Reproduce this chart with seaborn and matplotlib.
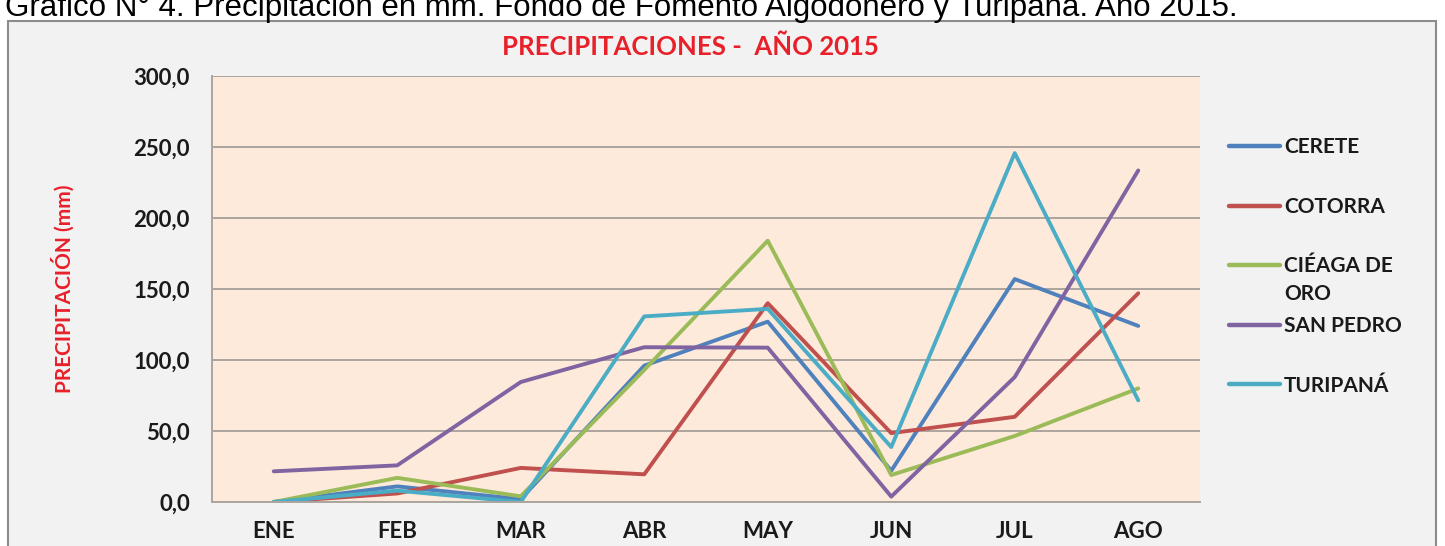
import matplotlib
matplotlib.use("Agg")
import matplotlib.pyplot as plt
import seaborn as sns
import pandas as pd
from matplotlib.patches import Rectangle
from matplotlib.lines import Line2D

months = ["ENE", "FEB", "MAR", "ABR", "MAY", "JUN", "JUL", "AGO"]
stations = ["CERETE", "COTORRA", "CIÉAGA DE\nORO", "SAN PEDRO", "TURIPANÁ"]
cerete = [0.0, 11.0, 2.0, 96.0, 127.0, 22.0, 157.0, 124.0]
cotorra = [0.0, 6.0, 24.0, 19.5, 140.0, 48.5, 60.0, 147.0]
cienaga = [0.0, 17.0, 4.0, 93.0, 184.0, 19.0, 46.5, 80.0]
san_pedro = [21.6, 25.8, 84.5, 109.0, 108.7, 3.8, 88.0, 233.5]
turipana = [0.0, 8.0, 0.0, 130.7, 136.0, 38.7, 245.7, 71.6]
colors = ["#4F81BD", "#C0504D", "#9BBB59", "#8064A2", "#4BACC6"]
yticks = [0, 50, 100, 150, 200, 250, 300]

series = [cerete, cotorra, cienaga, san_pedro, turipana]
rows = []
for name, vals in zip(stations, series):
    for m, v in zip(months, vals):
        rows.append({"mes": m, "estacion": name, "mm": v})
df = pd.DataFrame(rows)
df["pos"] = df["mes"].map({m: i for i, m in enumerate(months)})

sns.set_theme(style="white")
plt.rcParams["font.family"] = ["Lato", "DejaVu Sans"]

W, H = 1445, 546
fig = plt.figure(figsize=(W / 100, H / 100), dpi=100)
fig.patch.set_facecolor("white")

# chart area box
fig.patches.append(Rectangle((8 / W, -0.05), (1436 - 8) / W, (H - 21) / H + 0.05,
                             transform=fig.transFigure, facecolor="#F2F2F2",
                             edgecolor="#8C8C8C", linewidth=1.5, zorder=0))

ax = fig.add_axes([212 / W, 44 / H, (1200 - 212) / W, (502 - 76) / H])
ax.set_zorder(3)
ax.set_facecolor("#FDEADA")

palette = dict(zip(stations, colors))
sns.lineplot(data=df, x="pos", y="mm", hue="estacion", palette=palette,
             hue_order=stations, sort=False, linewidth=2.8, legend=False, ax=ax)

ax.set_xlim(-0.5, len(months) - 0.5)
ax.set_ylim(0, 300)
ax.set_xticks(range(len(months)))
ax.set_xticklabels(months, fontsize=16, fontweight="bold", color="#1A1A1A")
ax.set_yticks(yticks)
ax.set_yticklabels([f"{v:.1f}".replace(".", ",") for v in yticks],
                   fontsize=16, fontweight="bold", color="#1A1A1A")
ax.tick_params(axis="x", length=0, pad=14)
ax.tick_params(axis="y", length=0, pad=16)
ax.grid(axis="y", color="#ABA59E", linewidth=1.4)
ax.set_axisbelow(True)
for s in ["top", "right"]:
    ax.spines[s].set_visible(False)
ax.spines["left"].set_color("#ABA59E")
ax.spines["left"].set_linewidth(1.4)
ax.spines["bottom"].set_color("#ABA59E")
ax.spines["bottom"].set_linewidth(1.4)
ax.set_xlabel("")
ax.set_ylabel("PRECIPITACIÓN (mm)", fontsize=15, fontweight="bold",
              color="#E8202A")
ax.yaxis.set_label_coords(75 / W, (44 + 213) / H, transform=fig.transFigure)

fig.text(690 / W, 1 - 47 / H, "PRECIPITACIONES -  AÑO 2015", ha="center",
         va="center", fontsize=18.5, fontweight="bold", color="#E8202A", zorder=4)

# caption above chart (partially cut at top in the reference)
fig.text(5 / W, 1 - 16 / H,
         "Gráfico N° 4. Precipitación en mm. Fondo de Fomento Algodonero y Turipaná. Año 2015.",
         ha="left", va="baseline", fontsize=22.5, family="Liberation Sans",
         color="black", zorder=4)

# legend
for i, (name, c) in enumerate(zip(stations, colors)):
    yc = 1 - (146 + 59.5 * i) / H
    fig.lines.append(Line2D([1229 / W, 1280 / W], [yc, yc], transform=fig.transFigure,
                            color=c, linewidth=3.2, zorder=4))
    for j, part in enumerate(name.split("\n")):
        fig.text(1284 / W, yc - (7.5 + 27 * j) / H, part, ha="left", va="baseline",
                 fontsize=15, fontweight="bold", color="#1A1A1A", zorder=4)

fig.savefig("out.png", dpi=100, facecolor=fig.get_facecolor())
